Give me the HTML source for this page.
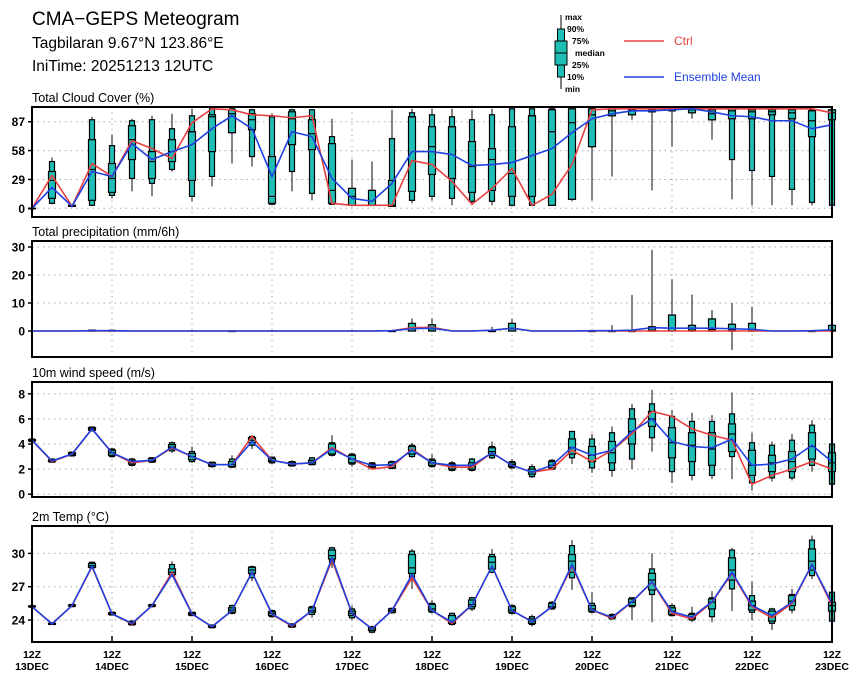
<!DOCTYPE html>
<html><head><meta charset="utf-8"><style>
body{margin:0;background:#fff;}
svg{display:block;font-family:"Liberation Sans",sans-serif;}
</style></head><body>
<svg id="chart" width="860" height="680" viewBox="0 0 860 680" xmlns="http://www.w3.org/2000/svg">
<rect width="860" height="680" fill="#fff"/>
<text x="32" y="25" font-size="19">CMA−GEPS Meteogram</text>
<text x="32" y="48" font-size="15.5">Tagbilaran 9.67°N 123.86°E</text>
<text x="32" y="71" font-size="15.5">IniTime: 20251213 12UTC</text>
<g font-size="8.5" font-weight="bold">
<line x1="561" y1="15" x2="561" y2="89" stroke="#000"/>
<rect x="557.5" y="29" width="7" height="48" fill="#1fbfb8" stroke="#000"/>
<rect x="555" y="41" width="12" height="24" fill="#1fbfb8" stroke="#000"/>
<line x1="555" y1="53" x2="567" y2="53" stroke="#000"/>
<text x="565" y="20">max</text><text x="567" y="32">90%</text><text x="572" y="44">75%</text>
<text x="575" y="56">median</text><text x="572" y="68">25%</text><text x="567" y="80">10%</text><text x="565" y="92">min</text>
<line x1="624" y1="41" x2="664" y2="41" stroke="#e84040" stroke-width="1.5"/>
<text x="674" y="45" font-size="12" font-weight="normal" fill="#e84040">Ctrl</text>
<line x1="624" y1="77" x2="664" y2="77" stroke="#2040e0" stroke-width="1.5"/>
<text x="674" y="81" font-size="12" font-weight="normal" fill="#2040e0">Ensemble Mean</text>
</g>
<g id="plots"></g>
</svg>
<script>
// ---- time axis ----
const dayLabels = ["13DEC","14DEC","15DEC","16DEC","17DEC","18DEC","19DEC","20DEC","21DEC","22DEC","23DEC"];
// ---- cloud cover (%) ----
const cloudMin = [0,4,2,2,10,17,12,37,7,22,45,42,4,17,8,4,3,3,2,5,8,3,3,3,3,3,3,7,8,32,89,18,62,90,69,9,3,3,3,3,3];
const cloudP10 = [0,5,2,3,13,30,25,39,12,32,76,52,4,37,15,4,3,3,2,8,12,10,7,7,3,3,3,9,62,93,94,97,98,96,89,49,38,32,19,6,3];
const cloudP25 = [0,10,2,8,16,49,30,47,28,57,76,79,5,64,59,5,3,3,2,17,34,30,16,18,12,12,3,9,62,93,94,97,98,96,89,90,90,94,90,72,89];
const cloudMed = [0,28,2,39,30,69,47,57,77,92,95,89,12,90,75,18,12,3,3,92,62,82,42,49,35,93,77,86,94,98,98,98,99,99,95,98,97,97,96,88,96];
const cloudP75 = [0,37,3,69,45,83,57,69,77,94,99,95,52,97,89,65,20,18,28,92,82,82,67,60,82,93,99,100,100,100,99,99,99,100,99,100,99,99,99,98,99];
const cloudP90 = [0,47,3,89,63,88,89,80,93,100,100,99,92,99,99,72,20,18,70,96,94,92,89,94,100,100,100,100,100,100,99,99,99,100,100,100,100,100,100,99,99];
const cloudMax = [0,51,3,92,74,90,93,95,100,100,100,100,95,100,99,90,49,47,99,100,100,100,99,100,100,100,100,100,100,100,99,100,100,100,100,100,100,100,100,99,100];
const cloudCtrl = [0,33,2,45,32,68,60,50,86,100,99,94,93,91,93,5,3,3,3,48,44,27,4,20,40,3,14,44,99,100,100,100,100,100,100,100,100,100,100,100,96];
const cloudMean = [0,21,2,37,32,65,49,57,64,80,93,80,32,77,72,30,10,7,25,57,57,54,43,44,46,53,60,76,90,95,98,98,99,100,97,93,92,88,88,80,84];
// ---- precipitation (mm/6h) ----
const precMin = [0,0,0,0,0,0,0,0,0,0,0,0,0,0,0,0,0,0,0,0,0,0,0,0,0,0,0,0,0,0,0,0,0,0,0,-6.8,0,0,0,0,0];
const precP10 = [0,0,0,0,0,0,0,0,0,0,0,0,0,0,0,0,0,0,0,0,0,0,0,0,0,0,0,0,0,0,0,0,0,0,0,0,0,0,0,0,0];
const precP25 = [0,0,0,0,0,0,0,0,0,0,0,0,0,0,0,0,0,0,0,0,0,0,0,0,0,0,0,0,0,0,0,0,0,0,0,0,0,0,0,0,0];
const precMed = [0,0,0,0,0,0,0,0,0,0,0,0,0,0,0,0,0,0,0,0.8,0.8,0,0,0,0.8,0,0,0,0,0,0,0.3,1,0.3,0.5,0.4,0.4,0,0,0,0.3];
const precP75 = [0,0,0,0.3,0.2,0,0,0,0,0,0,0,0,0,0,0,0,0,0,2.7,2.2,0,0,0,2.7,0,0,0,0,0,0,1.5,5.7,2,4.3,2.4,2.7,0,0,0,2];
const precP90 = [0,0,0,0.3,0.2,0,0,0,0,0,0,0,0,0,0,0,0,0,0,2.7,2.2,0,0,0,2.7,0,0,0,0,0,0,1.5,5.7,2,4.3,2.4,2.7,0,0,0,2];
const precMax = [0,0,0,0.5,0.5,0,0,0,0,0,0.2,0,0,0,0,0,0,0,0.3,4.5,4.5,0,0,1.5,4.3,0,0,0,0.3,2.1,12.9,29,18.5,13,7.5,10,8.7,0,0,0.2,2.5];
const precCtrl = [0,0,0,0,0,0,0,0,0,0,0,0,0,0,0,0,0,0,0.1,1.2,1.3,0,0,0.3,1,0,0,0,0,0,0,0,0,0,0,0,0,0,0,0,0];
const precMean = [0,0,0,0.1,0.1,0,0,0,0,0,0,0,0,0,0,0,0,0,0.1,0.8,1,0,0,0.3,1,0,0,0,0.1,0.1,0.3,1.2,1,1,1,0.8,0.6,0,0,0.1,0.4];
// ---- wind (m/s) ----
const windMin = [4.2,2.5,3.0,5.0,2.9,2.2,2.5,3.3,2.5,2.1,2.1,3.6,2.4,2.2,2.3,3.0,2.2,2.0,2.0,2.9,2.1,1.8,1.8,2.8,2.0,1.3,1.9,2.4,1.7,1.4,2.0,3.4,0.9,1.1,1.2,1.2,0.3,1.0,1.1,1.8,0.8];
const windP10 = [4.2,2.55,3.05,5.05,3.0,2.3,2.55,3.45,2.6,2.2,2.15,3.9,2.5,2.25,2.35,3.1,2.4,2.05,2.05,3.0,2.2,1.9,1.9,2.9,2.1,1.4,2.0,2.9,2.1,1.9,2.8,4.5,1.8,1.5,1.5,3.0,0.9,1.3,1.3,2.3,0.8];
const windP25 = [4.25,2.6,3.1,5.1,3.1,2.4,2.6,3.6,2.75,2.25,2.2,4.1,2.6,2.3,2.4,3.2,2.5,2.1,2.1,3.2,2.3,2.0,2.0,3.1,2.2,1.6,2.1,3.2,2.6,2.5,4.0,5.4,2.9,2.6,2.3,3.4,1.5,1.8,1.8,2.8,1.8];
const windMed = [4.3,2.65,3.2,5.2,3.3,2.55,2.7,3.75,3.0,2.35,2.35,4.3,2.7,2.4,2.55,3.6,2.8,2.2,2.3,3.5,2.5,2.2,2.2,3.4,2.35,1.8,2.3,3.7,3.1,3.3,5.0,6.0,4.1,3.9,3.6,4.8,2.3,2.5,2.6,3.8,2.5];
const windP75 = [4.35,2.75,3.3,5.3,3.5,2.7,2.85,3.95,3.25,2.5,2.6,4.5,2.85,2.55,2.7,4.0,3.1,2.4,2.55,3.8,2.7,2.4,2.5,3.7,2.5,2.0,2.6,4.4,3.8,4.2,6.0,6.6,5.3,4.9,4.9,5.6,3.5,3.1,3.4,4.9,3.3];
const windP90 = [4.4,2.8,3.35,5.35,3.6,2.8,2.9,4.1,3.4,2.55,2.8,4.6,2.95,2.6,2.9,4.1,3.2,2.5,2.6,3.9,2.8,2.5,2.8,3.8,2.6,2.2,2.7,5.0,4.4,4.9,6.8,7.2,6.2,5.8,5.8,6.4,4.1,3.9,4.3,5.5,4.0];
const windMax = [4.4,2.85,3.4,5.4,3.7,2.9,2.95,4.2,3.8,2.6,3.1,4.7,3.0,2.7,2.95,4.7,3.3,2.55,2.7,4.1,3.2,2.65,2.9,4.2,2.8,2.4,2.8,5.0,4.8,5.4,7.2,8.3,6.7,6.5,6.3,8.1,4.9,4.2,4.8,5.9,4.1];
const windCtrl = [4.3,2.6,3.2,5.2,3.3,2.5,2.7,3.7,3.0,2.35,2.35,4.6,2.7,2.4,2.5,3.7,2.8,2.0,2.2,3.6,2.5,2.15,2.15,3.3,2.3,1.75,2.0,3.5,2.6,3.5,4.8,6.6,6.2,5.2,4.7,4.3,0.8,1.5,2.0,2.6,2.0];
const windMean = [4.3,2.65,3.2,5.2,3.3,2.6,2.7,3.75,3.0,2.35,2.35,4.2,2.7,2.4,2.5,3.6,2.8,2.3,2.35,3.5,2.5,2.3,2.3,3.3,2.3,1.75,2.3,3.75,3.1,3.5,5.0,6.0,4.2,3.8,3.7,4.4,2.3,2.4,2.8,3.9,2.6];
// ---- 2m temperature (°C) ----
const tempMin = [25.1,23.55,25.2,28.6,24.4,23.5,25.15,27.9,24.35,23.25,24.5,27.5,24.2,23.3,24.2,28.7,24.0,22.8,24.6,26.8,24.6,23.5,24.8,28.2,24.5,23.4,24.9,26.7,24.6,24.0,24.0,23.8,24.3,23.8,23.8,24.8,24.0,23.1,24.6,27.7,23.8];
const tempP10 = [25.15,23.6,25.2,28.7,24.45,23.55,25.2,27.95,24.4,23.3,24.6,27.8,24.3,23.35,24.5,29.2,24.2,22.9,24.65,27.8,24.7,23.6,25.0,28.3,24.6,23.6,25.0,27.8,24.7,24.1,25.2,26.3,24.4,24.0,24.3,26.8,24.7,23.7,24.9,28.0,23.9];
const tempP25 = [25.2,23.6,25.25,28.75,24.5,23.6,25.25,28.1,24.45,23.35,24.7,28.2,24.4,23.4,24.7,29.5,24.4,23.05,24.7,28.2,24.8,23.7,25.2,28.6,24.7,23.7,25.1,28.3,24.8,24.2,25.3,26.7,24.5,24.1,25.0,27.6,24.9,23.9,25.3,28.5,24.8];
const tempMed = [25.2,23.65,25.3,28.9,24.55,23.7,25.3,28.3,24.55,23.45,24.9,28.5,24.6,23.5,24.85,29.8,24.6,23.2,24.85,28.7,25.0,23.9,25.4,29.2,24.9,23.9,25.2,29.3,25.0,24.3,25.6,27.6,24.8,24.3,25.6,28.5,25.3,24.3,25.7,29.3,25.3];
const tempP75 = [25.25,23.7,25.35,29.1,24.65,23.85,25.35,28.6,24.65,23.5,25.1,28.75,24.75,23.6,25.1,30.3,24.8,23.35,25.0,29.9,25.4,24.4,25.8,29.7,25.2,24.1,25.5,29.9,25.3,24.4,25.9,28.2,25.1,24.5,25.9,29.6,25.7,24.8,26.2,30.4,25.6];
const tempP90 = [25.3,23.75,25.4,29.2,24.7,23.9,25.4,29.0,24.7,23.55,25.3,28.8,24.85,23.65,25.2,30.5,25.0,23.4,25.05,30.2,25.5,24.6,26.0,29.9,25.3,24.3,25.6,30.7,25.5,24.5,26.0,28.6,25.3,24.6,26.0,30.3,26.2,25.0,26.3,31.2,26.5];
const tempMax = [25.3,23.8,25.4,29.25,24.75,23.95,25.45,29.3,24.75,23.6,25.4,28.9,24.9,23.7,25.3,30.6,25.3,23.5,25.1,30.4,25.8,24.6,26.1,30.4,25.4,24.5,25.7,31.2,26.5,24.6,26.0,30.0,25.5,25.2,26.6,30.5,27.5,25.1,26.8,31.6,26.6];
const tempCtrl = [25.2,23.65,25.3,28.8,24.55,23.65,25.3,28.3,24.55,23.4,24.85,28.3,24.5,23.45,24.85,29.4,24.6,23.2,24.85,27.8,24.85,23.7,25.35,28.85,24.85,23.85,25.2,28.85,24.9,24.15,25.65,27.4,24.6,24.1,25.6,28.2,25.2,24.2,25.5,29.0,25.3];
const tempMean = [25.2,23.65,25.3,28.85,24.55,23.7,25.3,28.1,24.55,23.4,24.85,28.3,24.55,23.5,24.85,29.6,24.6,23.2,24.85,28.1,24.85,23.8,25.35,28.85,24.85,23.85,25.2,29.0,24.9,24.25,25.65,27.45,24.75,24.25,25.65,28.3,25.3,24.4,25.6,29.0,25.5];

const NS = "http://www.w3.org/2000/svg";
const plots = document.getElementById("plots");
const X0 = 32, X1 = 832, NSTEP = 40;
function xAt(i){ return X0 + (X1 - X0) * i / NSTEP; }
function mk(tag, attrs, parent){
  const e = document.createElementNS(NS, tag);
  for (const k in attrs) e.setAttribute(k, attrs[k]);
  (parent || plots).appendChild(e);
  return e;
}

function panel(cfg){
  const g = mk("g", {});
  
  
  const y = v => cfg.y0 - (v - cfg.v0) * cfg.k;
  const t = mk("text", {x: X0, y: cfg.top - 5, "font-size": 12.5}, g);
  t.textContent = cfg.title;
  
  
  for (let d = 1; d < 10; d++){
    const gx = X0 + d * 80;
    const l = mk("line", {x1: gx, x2: gx, y1: cfg.top, y2: cfg.bot, stroke: "#aaa", "stroke-dasharray": "1.5,4"}, g);
    
    
  }
  cfg.ticks.forEach(tv => {
    const ty = y(tv);
    const l = mk("line", {x1: X0, x2: X1, y1: ty, y2: ty, stroke: "#aaa", "stroke-dasharray": "1.5,4"}, g);
    
    
    mk("line", {x1: X0 - 4, x2: X0, y1: ty, y2: ty, stroke: "#000", "stroke-width": 1.5}, g);
    const lab = mk("text", {x: X0 - 7, y: ty + 4.5, "font-size": 12, "font-weight": "bold", "text-anchor": "end"}, g);
    lab.textContent = tv;
    
    
  });
  const d = cfg.data;
  for (let i = 0; i <= NSTEP; i++){
    if (cfg.skipFlat && d.max[i] - d.min[i] < 0.05) continue;
    const cx = xAt(i);
    const bg = mk("g", {}, g);
    
    
    mk("line", {x1: cx, x2: cx, y1: y(d.min[i]), y2: y(d.max[i]), stroke: "#333", "stroke-width": 1.2}, bg);
    const y90 = y(d.p90[i]), y10 = y(d.p10[i]);
    mk("rect", {x: cx - 2.5, y: y90, width: 5, height: Math.max(0.5, y10 - y90), fill: "#1fbfb8", stroke: "#000", "stroke-width": 1.2}, bg);
    const y75 = y(d.p75[i]), y25 = y(d.p25[i]);
    mk("rect", {x: cx - 3.5, y: y75, width: 7, height: Math.max(0.5, y25 - y75), fill: "#1fbfb8", stroke: "#000", "stroke-width": 1.2}, bg);
    mk("line", {x1: cx - 3.5, x2: cx + 3.5, y1: y(d.med[i]), y2: y(d.med[i]), stroke: "#000", "stroke-width": 1.2}, bg);
  }
  const ctrl = mk("polyline", {points: d.ctrl.map((v, i) => xAt(i) + "," + y(v)).join(" "), fill: "none", stroke: "#e84040", "stroke-width": 1.6}, g);
  
  
  const mean = mk("polyline", {points: d.mean.map((v, i) => xAt(i) + "," + y(v)).join(" "), fill: "none", stroke: "#2040e0", "stroke-width": 1.6}, g);
  
  
  const fr = mk("rect", {x: X0, y: cfg.top, width: X1 - X0, height: cfg.bot - cfg.top, fill: "none", stroke: "#000", "stroke-width": 2}, g);
  
  
  return g;
}

panel({name: "cloud-cover", title: "Total Cloud Cover (%)", top: 107, bot: 217, y0: 208.3, v0: 0, k: 0.995, ticks: [0,29,58,87],
  data: {min: cloudMin, p10: cloudP10, p25: cloudP25, med: cloudMed, p75: cloudP75, p90: cloudP90, max: cloudMax, ctrl: cloudCtrl, mean: cloudMean}});
panel({name: "precipitation", title: "Total precipitation (mm/6h)", top: 241, bot: 357, y0: 331, v0: 0, k: 2.8, ticks: [0,10,20,30], skipFlat: true,
  data: {min: precMin, p10: precP10, p25: precP25, med: precMed, p75: precP75, p90: precP90, max: precMax, ctrl: precCtrl, mean: precMean}});
panel({name: "wind-speed", title: "10m wind speed (m/s)", top: 382, bot: 497, y0: 494.2, v0: 0, k: 12.55, ticks: [0,2,4,6,8],
  data: {min: windMin, p10: windP10, p25: windP25, med: windMed, p75: windP75, p90: windP90, max: windMax, ctrl: windCtrl, mean: windMean}});
panel({name: "temperature", title: "2m Temp (°C)", top: 526, bot: 642, y0: 620, v0: 24, k: 11.1, ticks: [24,27,30],
  data: {min: tempMin, p10: tempP10, p25: tempP25, med: tempMed, p75: tempP75, p90: tempP90, max: tempMax, ctrl: tempCtrl, mean: tempMean}});

dayLabels.forEach((lab, d) => {
  const tx = X0 + d * 80;
  mk("line", {x1: tx, x2: tx, y1: 642, y2: 636, stroke: "#000", "stroke-width": 1.5});
  const t1 = mk("text", {x: tx, y: 658, "font-size": 10.5, "font-weight": "bold", "text-anchor": "middle"});
  t1.textContent = "12Z";
  
  
  const t2 = mk("text", {x: tx, y: 670, "font-size": 10.5, "font-weight": "bold", "text-anchor": "middle"});
  t2.textContent = lab;
  
  
});
</script>
</body></html>
